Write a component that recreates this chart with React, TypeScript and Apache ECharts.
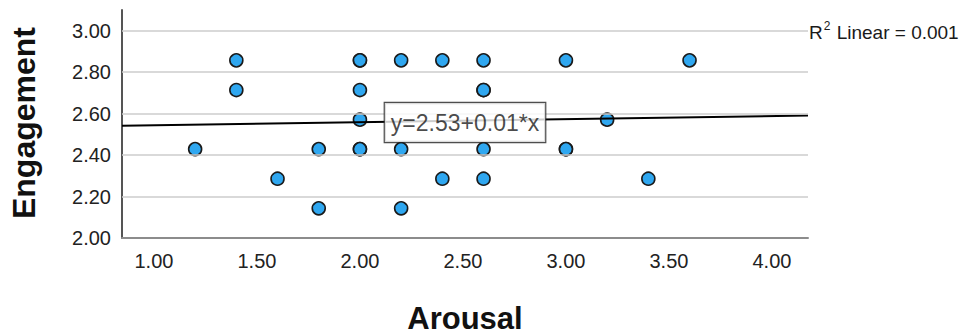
import React, { useEffect, useRef } from "react";
import * as echarts from "echarts";

// Scatter data (Arousal, Engagement)
const arousal = [
  1.2, 1.4, 1.4, 1.6, 1.8, 1.8,
  2.0, 2.0, 2.0, 2.0, 2.0, 2.0,
  2.2, 2.2, 2.2,
  2.4, 2.4,
  2.6, 2.6, 2.6, 2.6, 2.6,
  3.0, 3.0, 3.0,
  3.2, 3.4, 3.6,
];
const engagement = [
  2.429, 2.857, 2.714, 2.286, 2.429, 2.143,
  2.857, 2.714, 2.571, 2.429, 2.429, 2.857,
  2.857, 2.429, 2.143,
  2.857, 2.286,
  2.857, 2.714, 2.714, 2.429, 2.286,
  2.857, 2.429, 2.429,
  2.571, 2.286, 2.857,
];

// Fit line endpoints
const fitX = [0.845, 4.175];
const fitY = [2.542, 2.591];

const xTicks = [1.0, 1.5, 2.0, 2.5, 3.0, 3.5, 4.0];
const yTicks = [2.0, 2.2, 2.4, 2.6, 2.8, 3.0];
const gridValues = [2.2, 2.4, 2.6, 2.8, 3.0];

const fitLabel = "y=2.53+0.01*x";
const fitLabelPos = [2.51, 2.557];
const r2Label = "Linear = 0.001";

export default function App() {
  const ref = useRef<HTMLDivElement>(null);
  useEffect(() => {
    document.body.style.margin = "0";
    const chart = echarts.init(ref.current!, null, { renderer: "svg" });
    const font = "'Liberation Sans', Arial, sans-serif";
    chart.setOption({
      animation: false,
      textStyle: { fontFamily: font },
      grid: { left: 122, right: 168, top: 10, bottom: 96 },
      xAxis: {
        type: "value",
        min: 0.845,
        max: 4.175,
        splitLine: { show: false },
        axisTick: { show: false },
        axisLine: { show: true, lineStyle: { color: "#8c8c8c", width: 2 } },
        axisLabel: {
          customValues: xTicks,
          formatter: (v: number) => v.toFixed(2),
          color: "#222222",
          fontSize: 20,
          margin: 13,
          fontFamily: font,
        },
      },
      yAxis: {
        type: "value",
        min: 2.0,
        max: 3.1,
        splitLine: { show: false },
        axisTick: { show: false },
        axisLine: { show: true, lineStyle: { color: "#555555", width: 2 } },
        axisLabel: {
          customValues: yTicks,
          formatter: (v: number) => v.toFixed(2),
          color: "#222222",
          fontSize: 20,
          margin: 11,
          fontFamily: font,
        },
      },
      series: [
        {
          type: "line",
          data: [],
          z: 1,
          silent: true,
          markLine: {
            silent: true,
            symbol: "none",
            label: { show: false },
            lineStyle: { color: "#cccccc", width: 1.5, type: "solid" },
            data: gridValues.map((v) => ({ yAxis: v })),
          },
        },
        {
          type: "scatter",
          z: 3,
          symbol: "circle",
          symbolSize: 13,
          itemStyle: { color: "#2fa7f0", borderColor: "#1a1a1a", borderWidth: 1.6, opacity: 1 },
          data: arousal.map((a, i) => [a, engagement[i]]),
        },
        {
          type: "line",
          z: 4,
          symbol: "none",
          silent: true,
          lineStyle: { color: "#000000", width: 2 },
          data: fitX.map((x, i) => [x, fitY[i]]),
        },
        {
          type: "scatter",
          z: 5,
          symbolSize: 0,
          silent: true,
          data: [fitLabelPos],
          label: {
            show: true,
            position: "inside",
            formatter: fitLabel,
            color: "#1a1a1a",
            fontSize: 23,
            fontFamily: font,
            backgroundColor: "#ffffff",
            borderColor: "#222222",
            borderWidth: 1.2,
            padding: [9, 6, 7, 6],
          },
        },
      ],
      graphic: [
        {
          type: "text",
          x: 809,
          y: 31,
          style: {
            text: "{r|R}{s|2}{r| " + r2Label + "}",
            rich: {
              r: { fontSize: 19, fontFamily: font, fill: "#1a1a1a", verticalAlign: "bottom" },
              s: { fontSize: 12, fontFamily: font, fill: "#1a1a1a", padding: [0, 1, 10, 1], verticalAlign: "bottom" },
            },
            textVerticalAlign: "middle",
          },
        },
        {
          type: "text",
          x: 24,
          y: 123,
          rotation: Math.PI / 2,
          style: {
            text: "Engagement",
            fontSize: 32,
            fontWeight: "bold",
            fontFamily: font,
            fill: "#111111",
            textAlign: "center",
            textVerticalAlign: "middle",
          },
        },
        {
          type: "text",
          x: 465,
          y: 318,
          style: {
            text: "Arousal",
            fontSize: 31,
            fontWeight: "bold",
            fontFamily: font,
            fill: "#111111",
            textAlign: "center",
            textVerticalAlign: "middle",
          },
        },
      ],
    });
    return () => chart.dispose();
  }, []);
  return <div ref={ref} style={{ width: 976, height: 334 }} />;
}
